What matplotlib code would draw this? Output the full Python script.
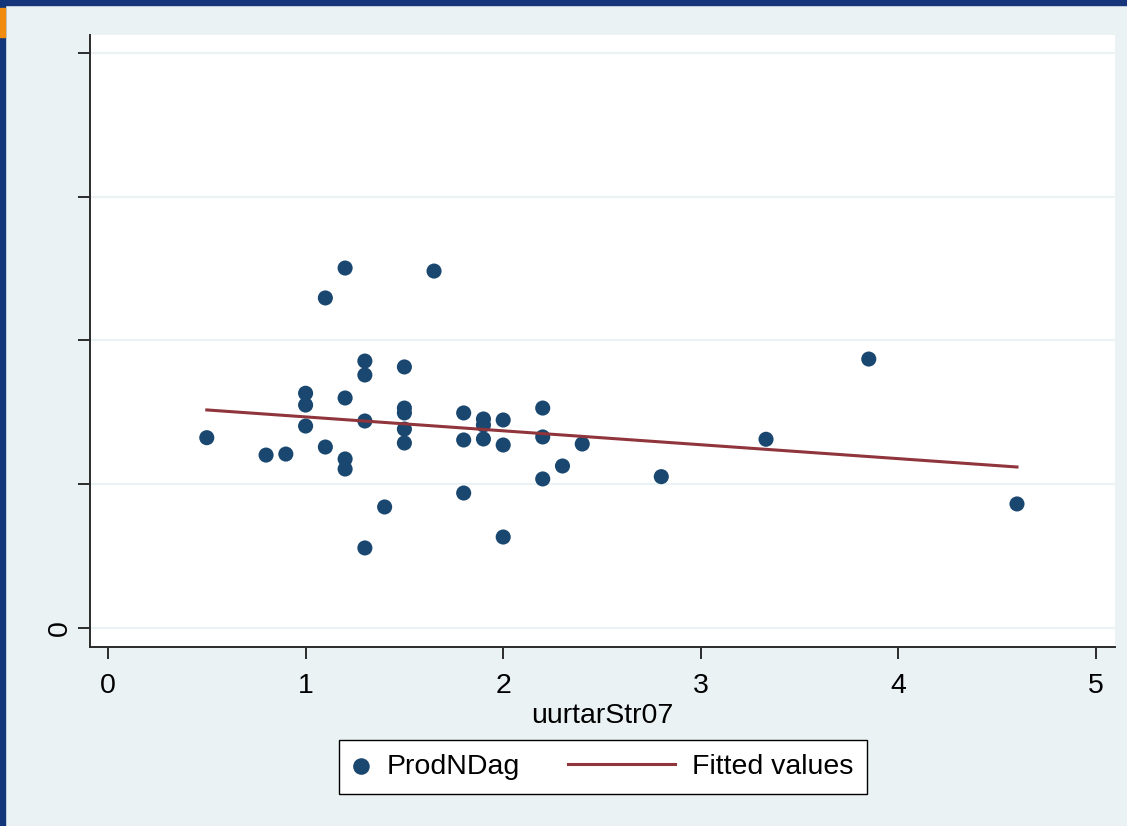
import numpy as np
import matplotlib
matplotlib.use("Agg")
import matplotlib.pyplot as plt
from matplotlib.lines import Line2D
from matplotlib.patches import Rectangle
from matplotlib.legend_handler import HandlerLine2D

plt.rcParams['font.family'] = ['Liberation Sans', 'DejaVu Sans']

# data
uurtar = [0.5, 0.8, 0.9,
          1.0, 1.0, 1.0,
          1.1, 1.1,
          1.2, 1.2, 1.2, 1.2,
          1.3, 1.3, 1.3, 1.3,
          1.4,
          1.5, 1.5, 1.5, 1.5, 1.5,
          1.65,
          1.8, 1.8, 1.8,
          1.9, 1.9, 1.9,
          2.0, 2.0, 2.0,
          2.2, 2.2, 2.2,
          2.3, 2.4, 2.8, 3.33, 3.85, 4.6]
prod = [1.324, 1.203, 1.210,
        1.633, 1.551, 1.405,
        2.296, 1.259,
        2.504, 1.600, 1.176, 1.106,
        1.857, 1.760, 1.440, 0.557,
        0.842,
        1.816, 1.530, 1.496, 1.384, 1.287,
        2.483,
        1.496, 1.308, 0.939,
        1.454, 1.412, 1.315,
        1.447, 1.273, 0.633,
        1.530, 1.329, 1.037,
        1.127, 1.280, 1.053, 1.313, 1.871, 0.863]
fit_x = [0.5, 4.6]
fit_y = [1.517, 1.120]

xticks = [0, 1, 2, 3, 4, 5]
yticks = [0, 1, 2, 3, 4]
ytick_labels = ['0', '', '', '', '']

navy = '#1a476f'
maroon = '#90353b'
bg = '#eaf2f3'

fig = plt.figure(figsize=(11.27, 8.26), dpi=100)
fig.patch.set_facecolor(bg)

# slide frame bits
fig.patches.append(Rectangle((0, 1 - 5/826), 1, 5/826, transform=fig.transFigure,
                             color='#16357a', zorder=5))
fig.patches.append(Rectangle((0, 0), 5/1127, 1, transform=fig.transFigure,
                             color='#13357a', zorder=5))
fig.patches.append(Rectangle((0, 1 - 37/826), 5/1127, 29/826, transform=fig.transFigure,
                             color='#f28c0f', zorder=6))

ax = fig.add_axes([90/1127, 1 - 647/826, 1025/1127, 612/826])
ax.set_facecolor('white')

ax.scatter(uurtar, prod, s=118, color=navy, edgecolors='none', zorder=3,
           label='ProdNDag')
ax.plot(fit_x, fit_y, color=maroon, lw=2.2, zorder=4, label='Fitted values')

ax.set_xlim(-0.091, 5.096)
ax.set_ylim(-0.132, 4.125)
ax.set_xticks(xticks)
ax.set_yticks(yticks)
ax.set_yticklabels(ytick_labels, rotation=90, va='center')
ax.grid(axis='y', color=bg, lw=1.6, zorder=0)
ax.set_axisbelow(True)

for s in ['top', 'right']:
    ax.spines[s].set_visible(False)
for s in ['left', 'bottom']:
    ax.spines[s].set_color('#2b2b2b')
    ax.spines[s].set_linewidth(1.4)
ax.tick_params(axis='both', length=8.5, width=1.4, color='#2b2b2b',
               labelsize=20.5, labelcolor='black')
ax.tick_params(axis='x', pad=10)
ax.tick_params(axis='y', pad=4)
ax.set_xlabel('uurtarStr07', fontsize=20.5, labelpad=3)


class LongLine(HandlerLine2D):
    # fitted-values key is drawn longer than the marker key, as in Stata
    def create_artists(self, legend, orig_handle, xdescent, ydescent,
                       width, height, fontsize, trans):
        y = height / 2 - ydescent
        ln = Line2D([width - xdescent - 77, width - xdescent], [y, y],
                    color=maroon, lw=2.2)
        ln.set_transform(trans)
        return [ln]


handles, labels = ax.get_legend_handles_labels()
leg = fig.legend(handles, labels, loc='center', bbox_to_anchor=(603/1127, 1 - 767/826),
                 ncol=2, fontsize=20.5, frameon=True, fancybox=False,
                 edgecolor='black', facecolor='white', framealpha=1,
                 handlelength=0.6, handletextpad=0.6, columnspacing=4.82,
                 borderpad=0.5, borderaxespad=0, scatterpoints=1, markerscale=1.1,
                 handler_map={Line2D: LongLine()})
leg.get_frame().set_linewidth(1.0)

fig.savefig('out.png', dpi=100, facecolor=fig.get_facecolor())
